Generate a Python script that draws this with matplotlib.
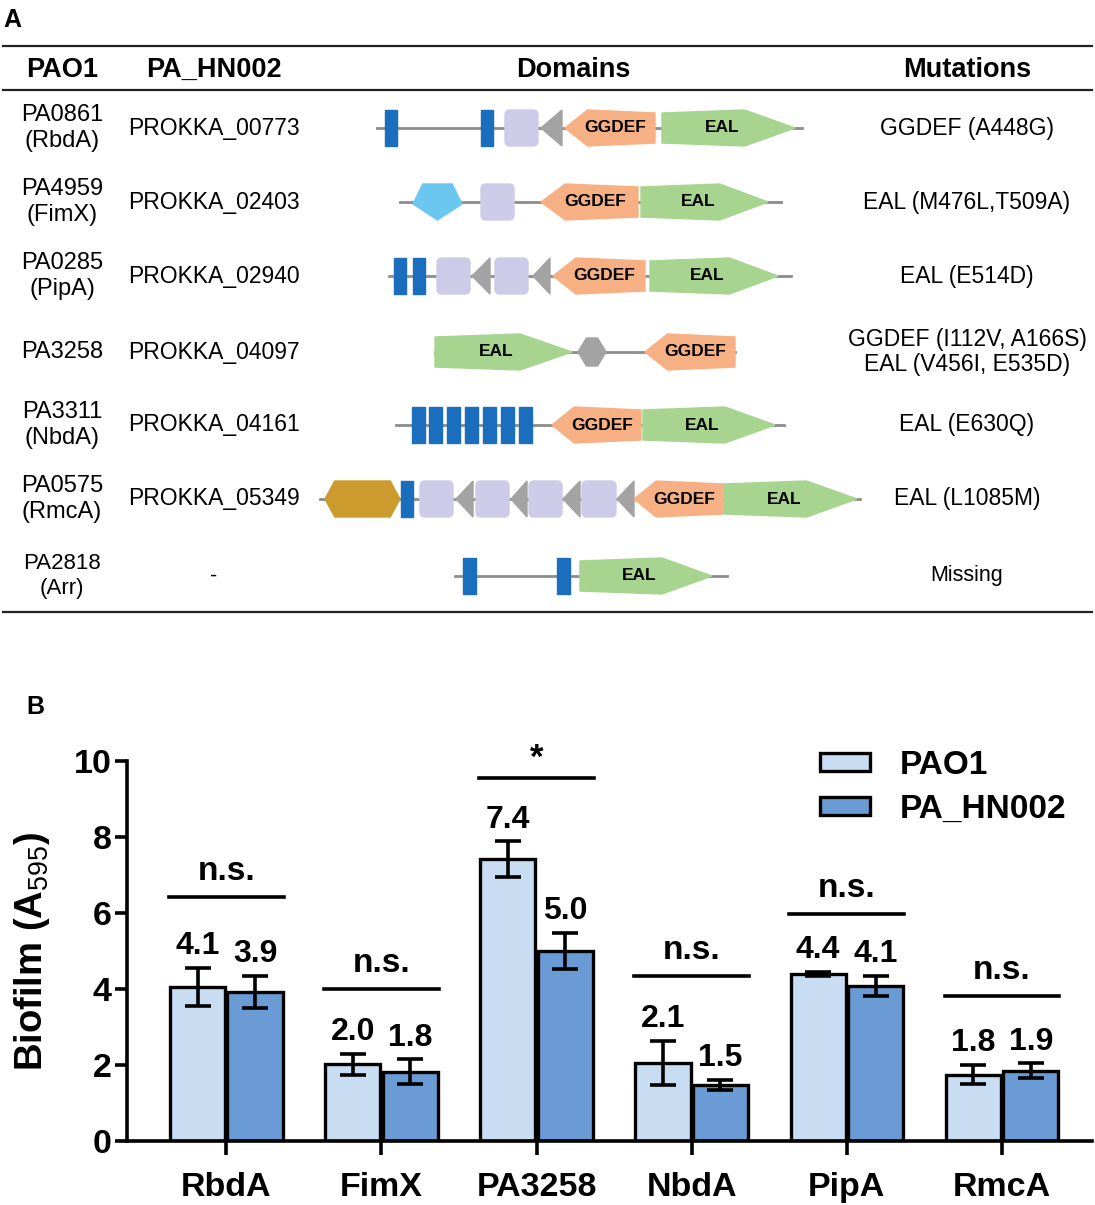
import matplotlib
matplotlib.use("Agg")
import matplotlib.pyplot as plt
from matplotlib.patches import Polygon, Rectangle, FancyBboxPatch
import numpy as np

plt.rcParams['font.family'] = ['Liberation Sans', 'DejaVu Sans']
plt.rcParams['mathtext.fontset'] = 'custom'
plt.rcParams['mathtext.rm'] = 'Liberation Sans'
plt.rcParams['mathtext.bf'] = 'Liberation Sans:bold'

# ---- panel A table contents ----
pao1_ids = ["PA0861\n(RbdA)", "PA4959\n(FimX)", "PA0285\n(PipA)", "PA3258",
            "PA3311\n(NbdA)", "PA0575\n(RmcA)", "PA2818\n(Arr)"]
hn002_ids = ["PROKKA_00773", "PROKKA_02403", "PROKKA_02940", "PROKKA_04097",
             "PROKKA_04161", "PROKKA_05349", "-"]
mutations = ["GGDEF (A448G)", "EAL (M476L,T509A)", "EAL (E514D)",
             "GGDEF (I112V, A166S)\nEAL (V456I, E535D)", "EAL (E630Q)",
             "EAL (L1085M)", "Missing"]

# domain architecture per protein: (domain, start, end) along the schematic
rbda_dom = [('tm', 385, 397), ('tm', 481, 493), ('pas', 505, 538), ('pac', 541, 562),
            ('ggdef', 565, 655), ('eal', 662, 795)]
fimx_dom = [('rec', 413, 462), ('pas', 481, 514), ('ggdef', 541, 638), ('eal', 641, 768)]
pipa_dom = [('tm', 394, 406), ('tm', 413, 425), ('pas', 437, 470), ('pac', 472, 490),
            ('pas', 495, 528), ('pac', 533, 550), ('ggdef', 553, 645), ('eal', 650, 778)]
pa3258_dom = [('eal', 435, 572), ('hex', 578, 606), ('ggdef', 645, 735)]
nbda_dom = [('tm', 412, 425), ('tm', 429, 442), ('tm', 447, 460), ('tm', 465, 478),
            ('tm', 483, 496), ('tm', 501, 514), ('tm', 519, 532),
            ('ggdef', 552, 641), ('eal', 643, 775)]
rmca_dom = [('gold', 325, 400), ('tm', 401, 413), ('pas', 420, 453), ('pac', 456, 473),
            ('pas', 476, 509), ('pac', 511, 527), ('pas', 529, 562), ('pac', 563, 580),
            ('pas', 582, 616), ('pac', 617, 634), ('ggdef', 634, 723), ('eal', 724, 857)]
arr_dom = [('tm', 463, 476), ('tm', 557, 570), ('eal', 580, 712)]
domains = [rbda_dom, fimx_dom, pipa_dom, pa3258_dom, nbda_dom, rmca_dom, arr_dom]
backbones = [(377, 802), (400, 781), (389, 791), (435, 735), (396, 784), (320, 860), (455, 727)]

# ---- panel B data ----
genes = ["RbdA", "FimX", "PA3258", "NbdA", "PipA", "RmcA"]
pao1_vals = [4.05, 2.02, 7.42, 2.05, 4.40, 1.75]
pao1_err = [0.50, 0.27, 0.47, 0.58, 0.06, 0.26]
hn002_vals = [3.93, 1.82, 5.00, 1.47, 4.08, 1.85]
hn002_err = [0.42, 0.33, 0.48, 0.14, 0.27, 0.19]
pao1_lbl = ["4.1", "2.0", "7.4", "2.1", "4.4", "1.8"]
hn002_lbl = ["3.9", "1.8", "5.0", "1.5", "4.1", "1.9"]
sig_height = [6.42, 4.0, 9.55, 4.34, 5.97, 3.82]
sig_text = ["n.s.", "n.s.", "*", "n.s.", "n.s.", "n.s."]

colors = {'tm': '#1A6EBD', 'pas': '#CECBE8', 'pac': '#A3A3A3', 'ggdef': '#F6B084',
          'eal': '#A7D48E', 'rec': '#6BC7F0', 'gold': '#CC9B2D', 'hex': '#A3A3A3'}


def draw_domain(ax, kind, x0, x1, y):
    w = x1 - x0
    h = 18
    c = colors[kind]
    if kind == 'tm':
        ax.add_patch(Rectangle((x0, y - h), w, 2 * h, color=c, zorder=2))
    elif kind == 'pas':
        r = 5
        ax.add_patch(FancyBboxPatch((x0 + r, y - h + r), w - 2 * r, 2 * h - 2 * r,
                                    boxstyle=f"round,pad={r}", color=c, zorder=2))
    elif kind == 'pac':
        ax.add_patch(Polygon([(x0, y), (x1, y - h), (x1, y + h)], color=c, zorder=2))
    elif kind == 'ggdef':
        pts = [(x0, y), (x0 + 0.25 * w, y - h), (x1, y - h + 3), (x1, y + h - 3),
               (x0 + 0.25 * w, y + h)]
        ax.add_patch(Polygon(pts, color=c, zorder=2))
        ax.text(x0 + 0.56 * w, y, "GGDEF", ha='center', va='center', fontsize=12.5,
                fontweight='bold', zorder=3)
    elif kind == 'eal':
        pts = [(x0, y - h + 3), (x0 + 0.62 * w, y - h), (x1, y), (x0 + 0.62 * w, y + h),
               (x0, y + h - 3)]
        ax.add_patch(Polygon(pts, color=c, zorder=2))
        ax.text(x0 + 0.45 * w, y, "EAL", ha='center', va='center', fontsize=12.5,
                fontweight='bold', zorder=3)
    elif kind == 'rec':
        xc = (x0 + x1) / 2
        pts = [(x0 + 0.2 * w, y - h), (x1 - 0.2 * w, y - h), (x1, y + 2), (xc, y + h),
               (x0, y + 2)]
        ax.add_patch(Polygon(pts, color=c, zorder=2))
    elif kind in ('gold', 'hex'):
        k = 0.13 if kind == 'gold' else 0.3
        hh = h if kind == 'gold' else 14
        pts = [(x0, y), (x0 + k * w, y - hh), (x1 - k * w, y - hh), (x1, y),
               (x1 - k * w, y + hh), (x0 + k * w, y + hh)]
        ax.add_patch(Polygon(pts, color=c, zorder=2))


fig = plt.figure(figsize=(10.95, 12.05), dpi=100)

# ---- panel A ----
ax0 = fig.add_axes([0, 0, 1, 1])
ax0.set_xlim(0, 1095)
ax0.set_ylim(1205, 0)
ax0.axis('off')

ax0.text(12, 20, "A", fontsize=18, fontweight='bold', ha='center', va='center')
for yl in (46, 90, 612):
    ax0.plot([3, 1092], [yl, yl], color='#222222', lw=1.6)

head_y = 70
for xh, t in zip((62, 214, 573, 967), ("PAO1", "PA_HN002", "Domains", "Mutations")):
    ax0.text(xh, head_y, t, fontsize=19.5, fontweight='bold', ha='center', va='center')

row_y = [128, 202, 276, 352, 425, 499, 576]
for i, y in enumerate(row_y):
    fs = 15.5 if i == 6 else 16.5
    ax0.text(62, y, pao1_ids[i], fontsize=fs + 0.5, ha='center', va='center', linespacing=1.22)
    ax0.text(214, y, hn002_ids[i], fontsize=fs, ha='center', va='center')
    ax0.text(967, y, mutations[i], fontsize=fs, ha='center', va='center', linespacing=1.15)
    b0, b1 = backbones[i]
    ax0.plot([b0, b1], [y, y], color='#8C8C8C', lw=2, zorder=1)
    for kind, x0, x1 in domains[i]:
        draw_domain(ax0, kind, x0, x1, y)

# ---- panel B ----
ax0.text(35, 707, "B", fontsize=18, fontweight='bold', ha='center', va='center')

ax = fig.add_axes([127 / 1095, (1205 - 1141) / 1205, (1092 - 127) / 1095, 380 / 1205])
x = np.arange(len(genes))
bw = 0.355
off = 0.185
ekw = dict(elinewidth=2.6, capsize=9.5, capthick=2.6, ecolor='black')
b1 = ax.bar(x - off, pao1_vals, bw, yerr=pao1_err, color='#C9DDF2', edgecolor='black',
            linewidth=2.4, error_kw=ekw, label='PAO1', zorder=2)
b2 = ax.bar(x + off, hn002_vals, bw, yerr=hn002_err, color='#6A9BD4', edgecolor='black',
            linewidth=2.4, error_kw=ekw, label='PA_HN002', zorder=2)

for i in range(len(genes)):
    ax.text(x[i] - off, pao1_vals[i] + pao1_err[i] + 0.36, pao1_lbl[i], ha='center',
            va='baseline', fontsize=23, fontweight='bold')
    ax.text(x[i] + off, hn002_vals[i] + hn002_err[i] + 0.36, hn002_lbl[i], ha='center',
            va='baseline', fontsize=23, fontweight='bold')
    ax.plot([x[i] - 0.37, x[i] + 0.37], [sig_height[i], sig_height[i]], color='black',
            lw=2.6, clip_on=False)
    dy = 0.28 if sig_text[i] == '*' else 0.45
    ax.text(x[i], sig_height[i] + dy, sig_text[i], ha='center', va='baseline',
            fontsize=25 if sig_text[i] == '*' else 24, fontweight='bold', clip_on=False)

ax.set_xlim(-0.64, 5.58)
ax.set_ylim(0, 10)
ax.set_yticks([0, 2, 4, 6, 8, 10])
ax.set_xticks(x)
ax.set_xticklabels(genes)
for s in ('top', 'right'):
    ax.spines[s].set_visible(False)
for s in ('left', 'bottom'):
    ax.spines[s].set_linewidth(2.6)
ax.tick_params(axis='y', width=2.6, length=9, pad=2, labelsize=24.5)
ax.tick_params(axis='x', width=2.6, length=10, pad=12, labelsize=24.5)
for lab in ax.get_xticklabels() + ax.get_yticklabels():
    lab.set_fontweight('bold')

fig.text(32 / 1095, 1 - 952 / 1205, r"Biofilm (A$_{\mathrm{595}}$)", rotation=90,
         fontsize=27.5, fontweight='bold', ha='center', va='center')

ax.legend(handles=[b1, b2], loc='upper left', frameon=False,
          bbox_to_anchor=(820 / 1095, 1 - 750 / 1205), bbox_transform=fig.transFigure,
          borderpad=0, borderaxespad=0, handlelength=1.5, handleheight=0.45,
          handletextpad=0.9, labelspacing=0.38,
          prop={'weight': 'bold', 'size': 24})

fig.savefig("out.png", dpi=100)
